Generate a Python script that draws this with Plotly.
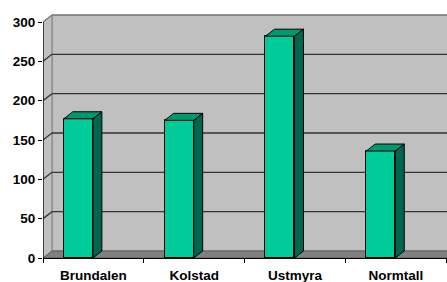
import plotly.graph_objects as go

categories = ["Brundalen", "Kolstad", "Ustmyra", "Normtall"]
values = [177, 175, 282, 136]
y_ticks = [0, 50, 100, 150, 200, 250, 300]

# style / geometry
FRONT = "#00CC99"
TOP = "#00996F"
SIDE = "#006650"
WALL = "#C0C0C0"
FLOOR = "#808080"
GRID = "#333333"
DX = 0.089      # depth offset in category units
DY = 8.9        # depth offset in value units
BAR_W = 0.288
BAR_OFF = -0.293
X0 = -0.5
XMAX = 3.508
YMAX_AX = 300
FONT = dict(family="Liberation Sans, Arial, sans-serif", size=13.5, color="black", weight="bold")

xs = list(range(len(categories)))

fig = go.Figure()
shapes = []
# back wall
shapes.append(dict(type="rect", xref="x", yref="y", x0=X0 + DX, x1=XMAX + 0.2, y0=DY, y1=YMAX_AX + DY,
                   fillcolor=WALL, line=dict(color="#808080", width=1), layer="below"))
# left side wall
shapes.append(dict(type="path", xref="x", yref="y",
                   path=f"M {X0},0 L {X0+DX},{DY} L {X0+DX},{YMAX_AX+DY} L {X0},{YMAX_AX} Z",
                   fillcolor=WALL, line=dict(color="#808080", width=1), layer="below"))
# gridlines
for v in y_ticks[1:]:
    shapes.append(dict(type="line", xref="x", yref="y", x0=X0 + DX, x1=XMAX + 0.2, y0=v + DY, y1=v + DY,
                       line=dict(color=GRID if v < YMAX_AX else "#808080", width=1.3), layer="below"))
    shapes.append(dict(type="line", xref="x", yref="y", x0=X0, x1=X0 + DX, y0=v, y1=v + DY,
                       line=dict(color=GRID if v < YMAX_AX else "#808080", width=1.3), layer="below"))
# floor
shapes.append(dict(type="path", xref="x", yref="y",
                   path=f"M {X0},0 L {X0+DX},{DY} L {XMAX+0.2},{DY} L {XMAX+0.2},0 Z",
                   fillcolor=FLOOR, line=dict(color="#5A5A5A", width=1), layer="below"))
# y axis line
shapes.append(dict(type="line", xref="x", yref="y", x0=X0, x1=X0, y0=0, y1=YMAX_AX,
                   line=dict(color="black", width=1.2), layer="above"))

# front faces
fig.add_trace(go.Bar(x=xs, y=values, width=BAR_W, offset=BAR_OFF,
                     marker=dict(color=FRONT, line=dict(color="black", width=1)),
                     hoverinfo="skip", showlegend=False))

# side and top faces
for x, v in zip(xs, values):
    l = x + BAR_OFF
    r = l + BAR_W
    fig.add_trace(go.Scatter(x=[r, r + DX, r + DX, r, r], y=[0, DY, v + DY, v, 0],
                             fill="toself", fillcolor=SIDE, mode="lines",
                             line=dict(color="black", width=1), hoverinfo="skip", showlegend=False))
    fig.add_trace(go.Scatter(x=[l, l + DX, r + DX, r, l], y=[v, v + DY, v + DY, v, v],
                             fill="toself", fillcolor=TOP, mode="lines",
                             line=dict(color="black", width=1), hoverinfo="skip", showlegend=False))

fig.update_layout(
    width=447, height=282,
    margin=dict(l=43, r=0, t=14, b=24),
    paper_bgcolor="white", plot_bgcolor="white",
    shapes=shapes,
    showlegend=False,
    bargap=0,
)
fig.update_xaxes(range=[X0, XMAX], tickvals=xs, ticktext=categories, ticks="",
                 showgrid=False, zeroline=False, showline=True, linecolor="black", linewidth=1.2,
                 tickfont=FONT, ticklabelstandoff=5, automargin=False,
                 minor=dict(tickmode="array", tickvals=[-0.5, 0.5, 1.5, 2.5, 3.5], ticks="outside",
                            ticklen=4, tickcolor="black", tickwidth=1, showgrid=False))
fig.update_yaxes(range=[0, 310.2], tickvals=y_ticks, ticks="outside", ticklen=4, tickcolor="black",
                 tickwidth=1, showgrid=False, zeroline=False, showline=False,
                 tickfont=FONT, automargin=False)

fig.write_html("out.html", config={"displayModeBar": False},
               post_script="document.body.style.margin='0';document.body.style.overflow='hidden';")
